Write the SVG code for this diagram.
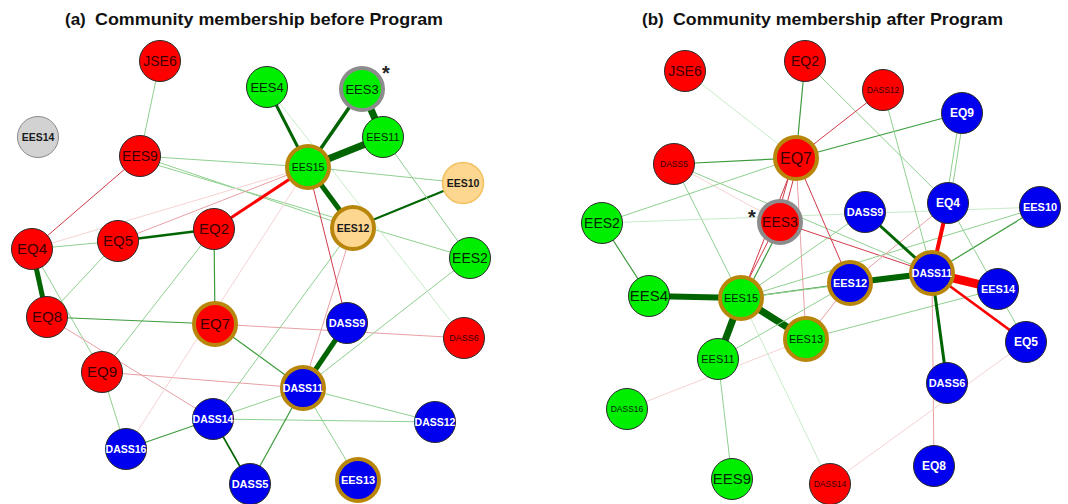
<svg xmlns="http://www.w3.org/2000/svg" width="1068" height="504" viewBox="0 0 1068 504">
<style>
text{font-family:"Liberation Sans",Arial,sans-serif;text-anchor:middle}
.title{font-weight:bold;font-size:17px;text-anchor:start;fill:#111}
.ast{font-weight:bold;font-size:20px;fill:#222}
line{fill:none;stroke-linecap:butt}
.gd{stroke:#006400}
.gm{stroke:#3c9c3c;stroke-width:1.2}
.gl{stroke:#8fd08f;stroke-width:1}
.gf{stroke:#c9ebc9;stroke-width:1}
.rd{stroke:#ff0000}
.rm{stroke:#d23a4a;stroke-width:1}
.rl{stroke:#e8a0a4;stroke-width:1}
.rf{stroke:#f5d2d2;stroke-width:1}
circle{stroke:#2a2a2a;stroke-width:1}
.red{fill:#ff0000}
.grn{fill:#00ee00}
.blu{fill:#0000ee}
.org{fill:#fdd68f}
.gry{fill:#d2d2d2;stroke:#8a8a8a}
.gold{stroke:#b8860b;stroke-width:4}
.ring{stroke:#8c8c8c;stroke-width:4}
.lorg{stroke:#f2c060;stroke-width:1.5}
.tr{fill:#3a0000}
.tg{fill:#002800}
.tb{fill:#ffffff;font-weight:bold}
.tk{fill:#1a1a1a;font-weight:bold}
.s6{font-size:10.5px}
.s5{font-size:11px}
</style>
<rect width="1068" height="504" fill="#ffffff"/>
<text class="title" x="65" y="25">(a)</text>
<text class="title" x="95" y="25" textLength="348" lengthAdjust="spacingAndGlyphs">Community membership before Program</text>
<text class="title" x="642" y="25">(b)</text>
<text class="title" x="673" y="25" textLength="330" lengthAdjust="spacingAndGlyphs">Community membership after Program</text>

<g id="connectors">
<!-- panel a -->
<line class="gl" x1="160" y1="61" x2="140" y2="156"/>
<line class="rm" x1="140" y1="156" x2="32" y2="249"/>
<line class="gl" x1="140" y1="156" x2="308" y2="167"/>
<line class="gl" x1="140" y1="156" x2="353" y2="228"/>
<line class="gl" x1="140" y1="160" x2="470" y2="258"/>
<line class="gl" x1="32" y1="249" x2="118" y2="241"/>
<line class="gd" stroke-width="5" x1="32" y1="249" x2="47" y2="317"/>
<line class="rf" x1="32" y1="249" x2="308" y2="167"/>
<line class="gl" x1="32" y1="249" x2="102" y2="372"/>
<line class="gd" stroke-width="2.5" x1="118" y1="241" x2="214" y2="229"/>
<line class="gl" x1="118" y1="241" x2="47" y2="317"/>
<line class="rl" x1="118" y1="241" x2="308" y2="167"/>
<line class="rd" stroke-width="3" x1="214" y1="229" x2="308" y2="167"/>
<line class="gm" x1="214" y1="229" x2="215" y2="324"/>
<line class="gl" x1="214" y1="229" x2="102" y2="372"/>
<line class="gm" x1="47" y1="317" x2="215" y2="324"/>
<line class="rl" x1="47" y1="317" x2="213" y2="419"/>
<line class="rl" x1="102" y1="372" x2="303" y2="388"/>
<line class="rl" x1="215" y1="324" x2="464" y2="338"/>
<line class="gm" x1="215" y1="324" x2="303" y2="388"/>
<line class="rf" x1="126" y1="449" x2="308" y2="167"/>
<line class="gm" x1="126" y1="449" x2="213" y2="419"/>
<line class="gd" stroke-width="1.6" x1="213" y1="419" x2="250" y2="484"/>
<line class="gl" x1="213" y1="419" x2="353" y2="228"/>
<line class="gl" x1="213" y1="419" x2="303" y2="388"/>
<line class="gl" x1="213" y1="419" x2="435" y2="422"/>
<line class="gm" x1="250" y1="484" x2="303" y2="388"/>
<line class="gd" stroke-width="5" x1="303" y1="388" x2="347" y2="323"/>
<line class="gl" x1="303" y1="388" x2="435" y2="422"/>
<line class="gl" x1="303" y1="388" x2="358" y2="480"/>
<line class="gl" x1="303" y1="388" x2="470" y2="258"/>
<line class="rl" x1="303" y1="388" x2="353" y2="228"/>
<line class="rm" x1="308" y1="167" x2="347" y2="323"/>
<line class="gd" stroke-width="3" x1="308" y1="167" x2="267" y2="87"/>
<line class="gd" stroke-width="3.5" x1="308" y1="167" x2="362" y2="89"/>
<line class="gd" stroke-width="7" x1="308" y1="167" x2="383" y2="137"/>
<line class="gd" stroke-width="7" x1="362" y1="89" x2="383" y2="137"/>
<line class="gd" stroke-width="5" x1="308" y1="167" x2="353" y2="228"/>
<line class="gd" stroke-width="2" x1="353" y1="228" x2="463" y2="183"/>
<line class="gl" x1="383" y1="137" x2="470" y2="258"/>
<line class="gf" x1="267" y1="87" x2="464" y2="338"/>
<line class="gl" x1="308" y1="167" x2="463" y2="183"/>
<line class="gl" x1="102" y1="372" x2="126" y2="449"/>
<!-- panel b -->
<line class="gf" x1="685" y1="71" x2="796" y2="158"/>
<line class="gm" x1="805" y1="61" x2="796" y2="158"/>
<line class="gl" x1="805" y1="61" x2="948" y2="203"/>
<line class="gm" x1="674" y1="164" x2="796" y2="158"/>
<line class="gl" x1="674" y1="164" x2="741" y2="298"/>
<line class="gl" x1="674" y1="164" x2="932" y2="273"/>
<line class="rf" x1="674" y1="164" x2="780" y2="222"/>
<line class="gl" x1="602" y1="223" x2="796" y2="158"/>
<line class="gf" x1="602" y1="223" x2="1040" y2="207"/>
<line class="gm" x1="602" y1="223" x2="649" y2="296"/>
<line class="rm" x1="794" y1="158" x2="776" y2="222"/>
<line class="rm" x1="799" y1="158" x2="782" y2="222"/>
<line class="rm" x1="796" y1="158" x2="741" y2="298"/>
<line class="rl" x1="796" y1="158" x2="806" y2="339"/>
<line class="rm" x1="796" y1="158" x2="850" y2="283"/>
<line class="rm" x1="796" y1="158" x2="883" y2="90"/>
<line class="gm" x1="796" y1="158" x2="962" y2="113"/>
<line class="rm" x1="780" y1="222" x2="932" y2="273"/>
<line class="rm" x1="778" y1="222" x2="739" y2="298"/>
<line class="gm" x1="783" y1="222" x2="744" y2="298"/>
<line class="gl" x1="741" y1="298" x2="865" y2="212"/>
<line class="gm" x1="741" y1="298" x2="850" y2="283"/>
<line class="gl" x1="741" y1="298" x2="1040" y2="207"/>
<line class="gl" x1="741" y1="298" x2="932" y2="273"/>
<line class="gd" stroke-width="6" x1="741" y1="298" x2="649" y2="296"/>
<line class="gd" stroke-width="7" x1="741" y1="298" x2="718" y2="359"/>
<line class="gd" stroke-width="7" x1="741" y1="298" x2="806" y2="339"/>
<line class="gd" stroke-width="6" x1="850" y1="283" x2="932" y2="273"/>
<line class="rl" x1="850" y1="283" x2="948" y2="203"/>
<line class="rl" x1="850" y1="283" x2="806" y2="339"/>
<line class="gl" x1="718" y1="359" x2="850" y2="283"/>
<line class="gl" x1="806" y1="339" x2="998" y2="289"/>
<line class="rf" x1="627" y1="409" x2="806" y2="339"/>
<line class="gl" x1="718" y1="359" x2="732" y2="479"/>
<line class="gf" x1="741" y1="298" x2="830" y2="484"/>
<line class="rd" stroke-width="4" x1="932" y1="273" x2="948" y2="203"/>
<line class="gd" stroke-width="3" x1="932" y1="273" x2="865" y2="212"/>
<line class="rd" stroke-width="9" x1="932" y1="273" x2="998" y2="289"/>
<line class="rd" stroke-width="2.5" x1="932" y1="273" x2="1026" y2="342"/>
<line class="gd" stroke-width="3" x1="932" y1="273" x2="947" y2="383"/>
<line class="gm" x1="932" y1="273" x2="1040" y2="207"/>
<line class="gl" x1="883" y1="90" x2="932" y2="273"/>
<line class="gl" x1="960" y1="113" x2="946" y2="203"/>
<line class="gl" x1="964" y1="113" x2="950" y2="203"/>
<line class="gl" x1="948" y1="203" x2="1026" y2="342"/>
<line class="rl" x1="932" y1="273" x2="934" y2="466"/>
<line class="rf" x1="1026" y1="342" x2="830" y2="484"/>
</g>

<!-- panel a nodes -->
<g id="a-JSE6"><circle class="red" cx="160" cy="61" r="20.5" stroke="#4a4a7a"/><text class="tr" x="160" y="66" font-size="14">JSE6</text></g>
<g id="a-EES14"><circle class="gry" cx="38" cy="137" r="20.5"/><text class="tk" x="38" y="141" font-size="10.5">EES14</text></g>
<g id="a-EES9"><circle class="red" cx="140" cy="156" r="20.5"/><text class="tr" x="140" y="161" font-size="14">EES9</text></g>
<g id="a-EES4"><circle class="grn" cx="267" cy="87" r="20.5"/><text class="tg" x="267" y="92" font-size="13">EES4</text></g>
<g id="a-EES3"><circle class="grn ring" cx="362" cy="89" r="21"/><text class="tg" x="362" y="94" font-size="13">EES3</text><text class="ast" x="386" y="80">*</text></g>
<g id="a-EES11"><circle class="grn" cx="383" cy="137" r="20.5"/><text class="tg" x="383" y="141" font-size="11">EES11</text></g>
<g id="a-EES15"><circle class="grn gold" cx="308" cy="167" r="21"/><text class="tg" x="308" y="171" font-size="10.5">EES15</text></g>
<g id="a-EES10"><circle class="org lorg" cx="463" cy="183" r="20.5"/><text class="tk" x="463" y="187" font-size="10.5">EES10</text></g>
<g id="a-EES12"><circle class="org gold" cx="353" cy="228" r="21"/><text class="tk" x="353" y="232" font-size="10.5">EES12</text></g>
<g id="a-EES2"><circle class="grn" cx="470" cy="258" r="20.5"/><text class="tg" x="470" y="263" font-size="14">EES2</text></g>
<g id="a-EQ2"><circle class="red" cx="214" cy="229" r="20.5"/><text class="tr" x="214" y="234" font-size="15">EQ2</text></g>
<g id="a-EQ5"><circle class="red" cx="118" cy="241" r="20.5"/><text class="tr" x="118" y="246" font-size="15">EQ5</text></g>
<g id="a-EQ4"><circle class="red" cx="32" cy="249" r="20.5"/><text class="tr" x="32" y="254" font-size="15">EQ4</text></g>
<g id="a-EQ8"><circle class="red" cx="47" cy="317" r="20.5"/><text class="tr" x="47" y="322" font-size="15">EQ8</text></g>
<g id="a-EQ7"><circle class="red gold" cx="215" cy="324" r="21"/><text class="tr" x="215" y="329" font-size="15">EQ7</text></g>
<g id="a-DASS9"><circle class="blu" cx="347" cy="323" r="20.5"/><text class="tb s5" x="347" y="327">DASS9</text></g>
<g id="a-DASS6"><circle class="red" cx="464" cy="338" r="20.5"/><text class="tr" x="464" y="341" font-size="9">DASS6</text></g>
<g id="a-EQ9"><circle class="red" cx="102" cy="372" r="20.5"/><text class="tr" x="102" y="377" font-size="15">EQ9</text></g>
<g id="a-DASS11"><circle class="blu gold" cx="303" cy="388" r="21"/><text class="tb s6" x="303" y="392">DASS11</text></g>
<g id="a-DASS14"><circle class="blu" cx="213" cy="419" r="20.5"/><text class="tb s6" x="213" y="423">DASS14</text></g>
<g id="a-DASS12"><circle class="blu" cx="435" cy="422" r="20.5"/><text class="tb s6" x="435" y="426">DASS12</text></g>
<g id="a-DASS16"><circle class="blu" cx="126" cy="449" r="20.5"/><text class="tb s6" x="126" y="453">DASS16</text></g>
<g id="a-DASS5"><circle class="blu" cx="250" cy="484" r="20.5"/><text class="tb s5" x="250" y="488">DASS5</text></g>
<g id="a-EES13"><circle class="blu gold" cx="358" cy="480" r="21"/><text class="tb s5" x="358" y="484">EES13</text></g>

<!-- panel b nodes -->
<g id="b-JSE6"><circle class="red" cx="685" cy="71" r="20.5" stroke="#4a4a7a"/><text class="tr" x="685" y="76" font-size="14">JSE6</text></g>
<g id="b-EQ2"><circle class="red" cx="805" cy="61" r="20.5"/><text class="tr" x="805" y="66" font-size="14">EQ2</text></g>
<g id="b-DASS12"><circle class="red" cx="883" cy="90" r="20.5"/><text class="tr" x="883" y="93" font-size="8.5">DASS12</text></g>
<g id="b-EQ9"><circle class="blu" cx="962" cy="113" r="20.5"/><text class="tb" x="962" y="117" font-size="12">EQ9</text></g>
<g id="b-DASS5"><circle class="red" cx="674" cy="164" r="20.5"/><text class="tr" x="674" y="167" font-size="8.5">DASS5</text></g>
<g id="b-EQ7"><circle class="red gold" cx="796" cy="158" r="21"/><text class="tr" x="796" y="164" font-size="16">EQ7</text></g>
<g id="b-EES2"><circle class="grn" cx="602" cy="223" r="20.5"/><text class="tg" x="602" y="228" font-size="14">EES2</text></g>
<g id="b-EES3"><circle class="red ring" cx="780" cy="222" r="21"/><text class="tr" x="780" y="227" font-size="14">EES3</text><text class="ast" x="752" y="224">*</text></g>
<g id="b-DASS9"><circle class="blu" cx="865" cy="212" r="20.5"/><text class="tb s5" x="865" y="216">DASS9</text></g>
<g id="b-EQ4"><circle class="blu" cx="948" cy="203" r="20.5"/><text class="tb" x="948" y="207" font-size="12">EQ4</text></g>
<g id="b-EES10"><circle class="blu" cx="1040" cy="207" r="20.5"/><text class="tb s5" x="1040" y="211">EES10</text></g>
<g id="b-DASS11"><circle class="blu gold" cx="932" cy="273" r="21"/><text class="tb s6" x="932" y="277">DASS11</text></g>
<g id="b-EES12"><circle class="blu gold" cx="850" cy="283" r="21"/><text class="tb s5" x="850" y="287">EES12</text></g>
<g id="b-EES14"><circle class="blu" cx="998" cy="289" r="20.5"/><text class="tb s5" x="998" y="293">EES14</text></g>
<g id="b-EES4"><circle class="grn" cx="649" cy="296" r="20.5"/><text class="tg" x="649" y="301" font-size="15">EES4</text></g>
<g id="b-EES15"><circle class="grn gold" cx="741" cy="298" r="21"/><text class="tg" x="741" y="302" font-size="11">EES15</text></g>
<g id="b-EES13"><circle class="grn gold" cx="806" cy="339" r="21"/><text class="tg" x="806" y="343" font-size="11">EES13</text></g>
<g id="b-EQ5"><circle class="blu" cx="1026" cy="342" r="20.5"/><text class="tb" x="1026" y="346" font-size="12">EQ5</text></g>
<g id="b-EES11"><circle class="grn" cx="718" cy="359" r="20.5"/><text class="tg" x="718" y="363" font-size="11">EES11</text></g>
<g id="b-DASS6"><circle class="blu" cx="947" cy="383" r="20.5"/><text class="tb s5" x="947" y="387">DASS6</text></g>
<g id="b-DASS16"><circle class="grn" cx="627" cy="409" r="20.5"/><text class="tg" x="627" y="412" font-size="8.5">DASS16</text></g>
<g id="b-EQ8"><circle class="blu" cx="934" cy="466" r="20.5"/><text class="tb" x="934" y="470" font-size="12">EQ8</text></g>
<g id="b-EES9"><circle class="grn" cx="732" cy="479" r="20.5"/><text class="tg" x="732" y="484" font-size="15">EES9</text></g>
<g id="b-DASS14"><circle class="red" cx="830" cy="484" r="20.5"/><text class="tr" x="830" y="487" font-size="8.5">DASS14</text></g>
</svg>
